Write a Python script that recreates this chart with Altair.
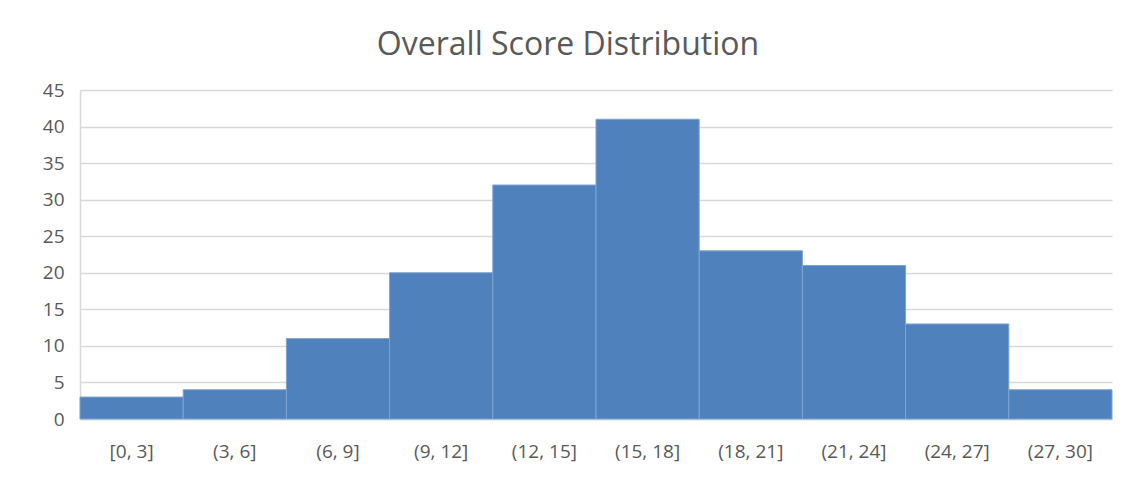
import altair as alt
import pandas as pd

bins = ["[0, 3]", "(3, 6]", "(6, 9]", "(9, 12]", "(12, 15]", "(15, 18]",
        "(18, 21]", "(21, 24]", "(24, 27]", "(27, 30]"]
counts = [3, 4, 11, 20, 32, 41, 23, 21, 13, 4]
y_ticks = [0, 5, 10, 15, 20, 25, 30, 35, 40, 45]

df = pd.DataFrame({"bin": bins, "count": counts})

FONT = "Open Sans"
GREY = "#595959"

bars = alt.Chart(df).mark_bar(
    color="#4F81BD", stroke="#7EA3D3", strokeWidth=1
).encode(
    x=alt.X("bin:N", sort=bins, title=None,
            scale=alt.Scale(paddingInner=0, paddingOuter=0),
            axis=alt.Axis(labelAngle=0, labelFont=FONT, labelFontSize=19,
                          labelColor=GREY, labelPadding=23, ticks=False,
                          domainColor="#D9D9D9", domainWidth=1.5)),
    y=alt.Y("count:Q", title=None,
            scale=alt.Scale(domain=[0, 45], nice=False),
            axis=alt.Axis(values=y_ticks, labelFont=FONT, labelFontSize=19,
                          labelColor=GREY, labelPadding=16, ticks=False,
                          domainColor="#D9D9D9", domainWidth=1.5,
                          gridColor="#D9D9D9", gridWidth=1.5)),
)

chart = bars.properties(
    width=1032, height=329,
    title=alt.TitleParams("Overall Score Distribution", font=FONT, fontSize=32,
                          fontWeight="normal", color=GREY, anchor="middle",
                          frame="group", dx=-28, offset=0, dy=6,
                          baseline="alphabetic"),
    autosize=alt.AutoSizeParams(type="none"),
    padding={"left": 72, "top": 82, "right": 2, "bottom": 70},
).configure_view(stroke=None)

chart.save("out.html", embed_options={"renderer": "svg", "actions": False})
